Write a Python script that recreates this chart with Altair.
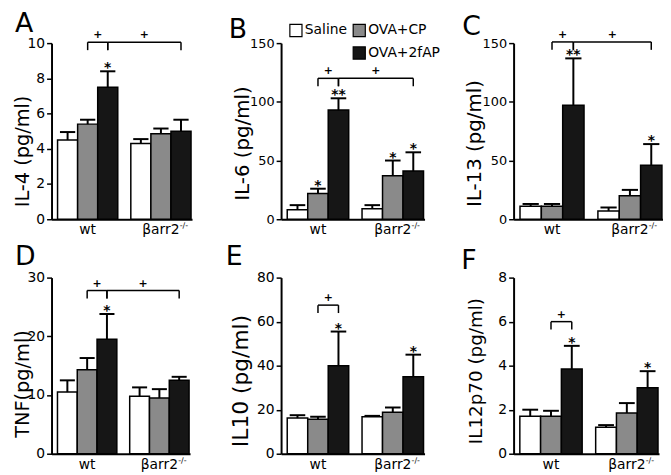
import altair as alt
import pandas as pd

FONT = "DejaVu Sans"

groups = ["wt", "βarr2"]
treatments = ["Saline", "OVA+CP", "OVA+2fAP"]
fill_colors = ["#ffffff", "#8a8a8a", "#161616"]

# values in order: wt Saline, wt OVA+CP, wt OVA+2fAP, βarr2 Saline, βarr2 OVA+CP, βarr2 OVA+2fAP
il4_mean = [4.5, 5.4, 7.5, 4.3, 4.85, 5.0]
il4_top = [4.95, 5.65, 8.4, 4.55, 5.15, 5.65]
il4_sig = ["", "", "*", "", "", ""]

il6_mean = [8, 22, 93, 9, 37, 41]
il6_top = [12, 26, 103, 12, 50, 57]
il6_sig = ["", "*", "**", "", "*", "*"]

il13_mean = [11, 11, 97, 7, 20, 46]
il13_top = [13, 13, 137, 10, 25, 64]
il13_sig = ["", "", "**", "", "", "*"]

tnf_mean = [10.5, 14.3, 19.5, 9.8, 9.5, 12.5]
tnf_top = [12.5, 16.3, 23.8, 11.3, 11.0, 13.1]
tnf_sig = ["", "", "*", "", "", ""]

il10_mean = [16.2, 15.7, 40, 16.8, 18.8, 35]
il10_top = [17.5, 16.8, 55.5, 17.2, 21, 45]
il10_sig = ["", "", "*", "", "", "*"]

il12_mean = [1.7, 1.7, 3.85, 1.2, 1.85, 3.0]
il12_top = [2.0, 1.95, 4.9, 1.3, 2.3, 3.75]
il12_sig = ["", "", "*", "", "", "*"]

panels = [
    dict(letter="A", title="IL-4 (pg/ml)", ymax=10, ticks=[0, 2, 4, 6, 8, 10],
         mean=il4_mean, top=il4_top, sig=il4_sig, brackets=[(1, 2), (2, 5)], level=10.05),
    dict(letter="B", title="IL-6 (pg/ml)", ymax=150, ticks=[0, 50, 100, 150],
         mean=il6_mean, top=il6_top, sig=il6_sig, brackets=[(1, 2), (2, 5)], level=120),
    dict(letter="C", title="IL-13 (pg/ml)", ymax=150, ticks=[0, 50, 100, 150],
         mean=il13_mean, top=il13_top, sig=il13_sig, brackets=[(1, 2), (2, 5)], level=151),
    dict(letter="D", title="TNF(pg/ml)", ymax=30, ticks=[0, 10, 20, 30],
         mean=tnf_mean, top=tnf_top, sig=tnf_sig, brackets=[(1, 2), (2, 5)], level=27.8),
    dict(letter="E", title="IL10 (pg/ml)", ymax=80, ticks=[0, 20, 40, 60, 80],
         mean=il10_mean, top=il10_top, sig=il10_sig, brackets=[(1, 2)], level=67.5),
    dict(letter="F", title="IL12p70 (pg/ml)", ymax=8, ticks=[0, 2, 4, 6, 8],
         mean=il12_mean, top=il12_top, sig=il12_sig, brackets=[(1, 2)], level=6.0),
]

# layout / style (not data)
H = 178
GROUP_STEP = 3.65
CAP = 0.38
LEG_PX = 8
XDOM = [-0.8, 6.2]
styles = [
    dict(w=142, tfs=19.5, tx=-19, ty=H / 2 + 20, lx=-37, ly=-11, lfs=14),
    dict(w=145, tfs=20, tx=-29, ty=H / 2 + 12, lx=-53, ly=-5, lfs=13),
    dict(w=151, tfs=20, tx=-29, ty=H / 2 + 12, lx=-52, ly=-8, lfs=13),
    dict(w=140, tfs=19.5, tx=-19, ty=H / 2 + 18, lx=-37, ly=-13, lfs=14),
    dict(w=145, tfs=22, tx=-29, ty=H / 2 + 15, lx=-56, ly=-13, lfs=14),
    dict(w=147, tfs=18.5, tx=-28, ty=H / 2 + 5, lx=-53, ly=-9, lfs=14),
]

leg_domain = ["Saline", "OVA+CP", " ", "OVA+2fAP"]
leg_fill = ["#ffffff", "#8a8a8a", "transparent", "#161616"]
leg_stroke = ["black", "black", "transparent", "black"]


def make_panel(p, s, with_legend):
    rows = []
    for gi, g in enumerate(groups):
        for ti, t in enumerate(treatments):
            k = gi * 3 + ti
            pos = gi * GROUP_STEP + ti
            rows.append(dict(group=g, treat=t, pos=pos, lo=pos - 0.5, hi=pos + 0.5,
                             clo=pos - CAP, chi=pos + CAP,
                             mean=p["mean"][k], top=p["top"][k], sig=p["sig"][k]))
    df = pd.DataFrame(rows)
    posl = list(df["pos"])

    xs = alt.Scale(domain=XDOM, nice=False, zero=False)
    ys = alt.Scale(domain=[0, p["ymax"]], nice=False)
    xaxis = alt.Axis(title=None, labels=False, ticks=False, grid=False,
                     domainColor="black", domainWidth=2)
    yaxis = alt.Axis(values=p["ticks"], title=p["title"], titleFont=FONT,
                     titleFontSize=s["tfs"], titleFontWeight="normal", titleColor="black",
                     titleX=s["tx"], titleY=s["ty"], titleBaseline="bottom",
                     labelFont=FONT, labelFontSize=s["lfs"], labelColor="black",
                     labelOverlap=False, labelSeparation=0, labelPadding=2,
                     tickSize=5, tickWidth=1.5,
                     tickColor="black", domainColor="black", domainWidth=2, grid=False)

    def X(f):
        return alt.X(f, type="quantitative", scale=xs, axis=xaxis)

    def Y(f):
        return alt.Y(f, type="quantitative", scale=ys, axis=yaxis)

    if with_legend:
        leg = alt.Legend(title=None, orient="none", legendX=8, legendY=-20,
                         direction="horizontal", columns=2, symbolType="square",
                         symbolSize=150, symbolStrokeWidth=1.2, labelFont=FONT,
                         labelFontSize=14, labelColor="black", columnPadding=3,
                         rowPadding=5, labelOffset=2, padding=0)
    else:
        leg = None

    bars = alt.Chart(df).mark_bar(strokeWidth=1.5).encode(
        x=X("lo"), x2="hi", y=Y("mean"), y2=alt.datum(0),
        fill=alt.Fill("treat:N", scale=alt.Scale(domain=leg_domain, range=leg_fill), legend=leg),
        stroke=alt.Stroke("treat:N", scale=alt.Scale(domain=leg_domain, range=leg_stroke), legend=leg),
    )
    err = alt.Chart(df).mark_rule(color="black", strokeWidth=2).encode(
        x=X("pos"), y=Y("mean"), y2="top")
    caps = alt.Chart(df).mark_rule(color="black", strokeWidth=2).encode(
        x=X("clo"), x2="chi", y=Y("top"))
    stars = alt.Chart(df[df["sig"] != ""]).mark_text(
        font=FONT, fontSize=14, fontWeight="bold", baseline="alphabetic", dy=1,
        color="black").encode(x=X("pos"), y=Y("top"), text="sig:N")

    brows = []
    ends = []
    leg_len = LEG_PX * p["ymax"] / H
    for a, b in p["brackets"]:
        brows.append(dict(x1=posl[a], x2=posl[b], mid=(posl[a] + posl[b]) / 2,
                          level=p["level"], plus="+"))
        for e in (posl[a], posl[b]):
            ends.append(dict(xe=e, level=p["level"], leg=p["level"] - leg_len))
    bdf = pd.DataFrame(brows)
    edf = pd.DataFrame(ends)
    hr = alt.Chart(bdf).mark_rule(color="black", strokeWidth=1.5).encode(
        x=X("x1"), x2="x2", y=Y("level"))
    legs = alt.Chart(edf).mark_rule(color="black", strokeWidth=1.5).encode(
        x=X("xe"), y=Y("level"), y2="leg")
    plus = alt.Chart(bdf).mark_text(font=FONT, fontSize=11, fontWeight="bold",
                                    baseline="alphabetic", dy=-4, color="black").encode(
        x=X("mid"), y=Y("level"), text="plus:N")

    ldf = pd.DataFrame({"group": groups, "c": [1, GROUP_STEP + 1]})
    labels = alt.Chart(ldf).mark_text(font=FONT, fontSize=14, baseline="top", dy=4,
                                      color="black").encode(
        x=X("c"), y=Y("zero"), text="group:N").transform_calculate(zero="0")
    sdf = pd.DataFrame({"c": [GROUP_STEP + 1], "sup": ["-/-"]})
    sup = alt.Chart(sdf).mark_text(font=FONT, fontSize=8, baseline="top", align="left",
                                   dx=19, dy=3, color="black").encode(
        x=X("c"), y=Y("zero"), text="sup:N").transform_calculate(zero="0")

    letdf = pd.DataFrame({"t": [p["letter"]]})
    letter = alt.Chart(letdf).mark_text(font=FONT, fontSize=27, align="left",
                                        baseline="alphabetic", color="black").encode(
        x=alt.value(s["lx"]), y=alt.value(s["ly"]), text="t:N")

    return alt.layer(bars, err, caps, stars, hr, legs, plus, labels, sup, letter).properties(
        width=s["w"], height=H)


charts = [make_panel(p, s, i == 1) for i, (p, s) in enumerate(zip(panels, styles))]

chart = alt.concat(*charts, columns=3, spacing={"row": 59, "column": 90}, bounds="flush",
                   padding={"left": 5, "top": 0, "right": 0, "bottom": 0}).resolve_scale(
    x="independent", y="independent", fill="independent", stroke="independent"
).configure(font=FONT).configure_view(stroke=None).configure_axis(labelOverlap=False)

chart.save("out.html", embed_options={"renderer": "svg", "actions": False})
